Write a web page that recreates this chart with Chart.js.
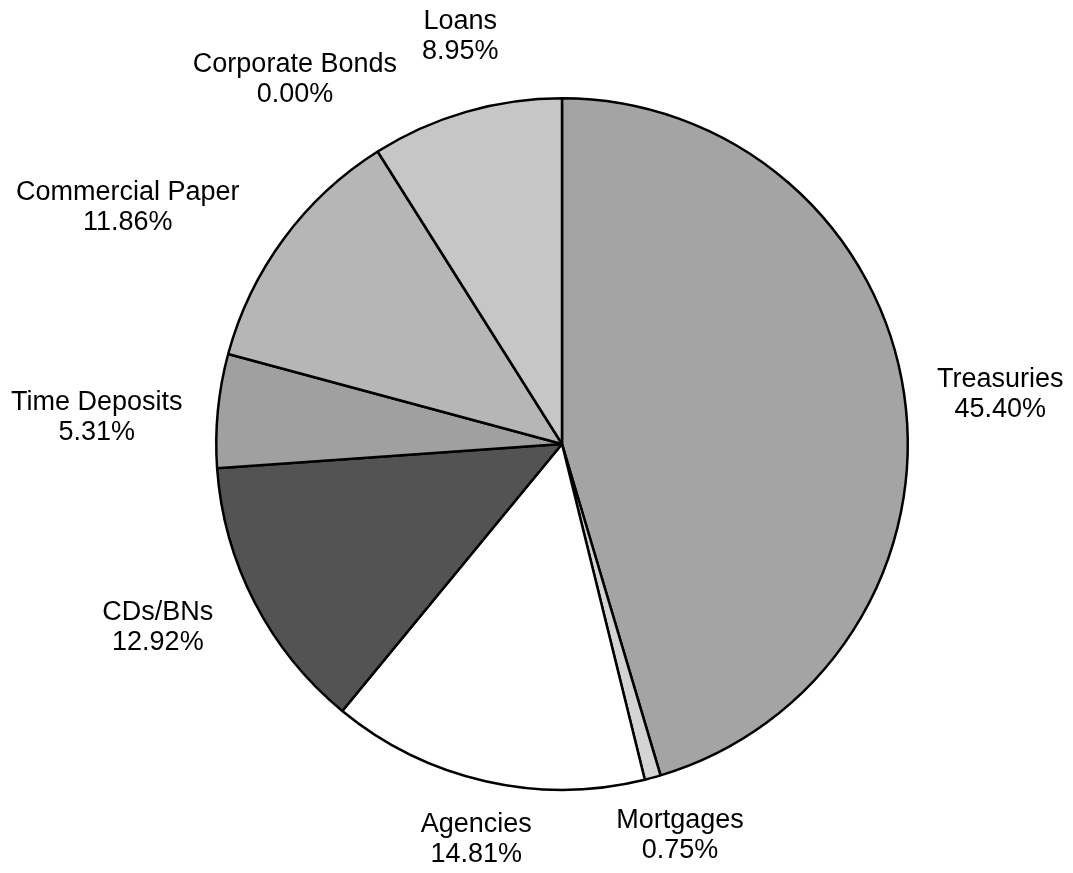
<!DOCTYPE html>
<html>
<head>
<meta charset="utf-8">
<script src="https://cdn.jsdelivr.net/npm/chart.js@4.4.1/dist/chart.umd.min.js"></script>
<style>
  body { margin: 0; background: #fff; }
  #wrap { width: 1073px; height: 873px; position: relative; }
</style>
</head>
<body>
<div id="wrap"><canvas id="portfolio-pie"></canvas></div>
<script>
let categories = [
  "Treasuries",
  "Mortgages",
  "Agencies",
  "CDs/BNs",
  "Time Deposits",
  "Commercial Paper",
  "Corporate Bonds",
  "Loans",
];

let shares = [45.40, 0.75, 14.81, 12.92, 5.31, 11.86, 0.00, 8.95];

let sliceColours = [
  "#a4a4a4",
  "#d4d4d4",
  "#ffffff",
  "#535353",
  "#a0a0a0",
  "#b6b6b6",
  "#c0c0c0",
  "#c6c6c6",
];

// small per-label shifts so the text sits where it reads best
let labelNudge = [
  [-6, 10], [0, -10], [12, -10], [-12, -7],
  [4, 14], [-34, 10], [-7, -13], [16, -8],
];

const labelFont = "27px 'Liberation Sans', Arial, sans-serif";
const lineHeight = 30;
const labelGap = 40;

// draws "name / pct%" outside each slice
const outsideLabels = {
  id: "outsideLabels",
  afterDraw(chart) {
    const ctx = chart.ctx;
    const meta = chart.getDatasetMeta(0);
    ctx.save();
    ctx.font = labelFont;
    ctx.fillStyle = "#000";
    ctx.textAlign = "center";
    ctx.textBaseline = "middle";
    meta.data.forEach((arc, i) => {
      const p = arc.getProps(["x", "y", "startAngle", "endAngle", "outerRadius"], true);
      const mid = (p.startAngle + p.endAngle) / 2;
      const dx = Math.cos(mid);
      const dy = Math.sin(mid);
      const lines = [categories[i], shares[i].toFixed(2) + "%"];
      const w = Math.max(...lines.map(t => ctx.measureText(t).width));
      const h = lines.length * lineHeight;
      const cx = p.x + dx * (p.outerRadius + labelGap) + dx * w / 2 + labelNudge[i][0];
      const cy = p.y + dy * (p.outerRadius + labelGap) + dy * h / 2 + labelNudge[i][1];
      lines.forEach((t, k) => {
        ctx.fillText(t, cx, cy + (k - (lines.length - 1) / 2) * lineHeight);
      });
    });
    ctx.restore();
  }
};

new Chart("portfolio-pie", {
  type: "pie",
  data: {
    labels: categories,
    datasets: [{
      data: shares,
      backgroundColor: sliceColours,
      borderColor: "#000",
      borderWidth: 2.5,
    }]
  },
  options: {
    responsive: true,
    maintainAspectRatio: false,
    animation: false,
    events: [],
    layout: {
      padding: { top: 97, bottom: 82, left: 215, right: 164 }
    },
    plugins: {
      legend: { display: false },
      tooltip: { enabled: false },
    }
  },
  plugins: [outsideLabels]
});
</script>
</body>
</html>
